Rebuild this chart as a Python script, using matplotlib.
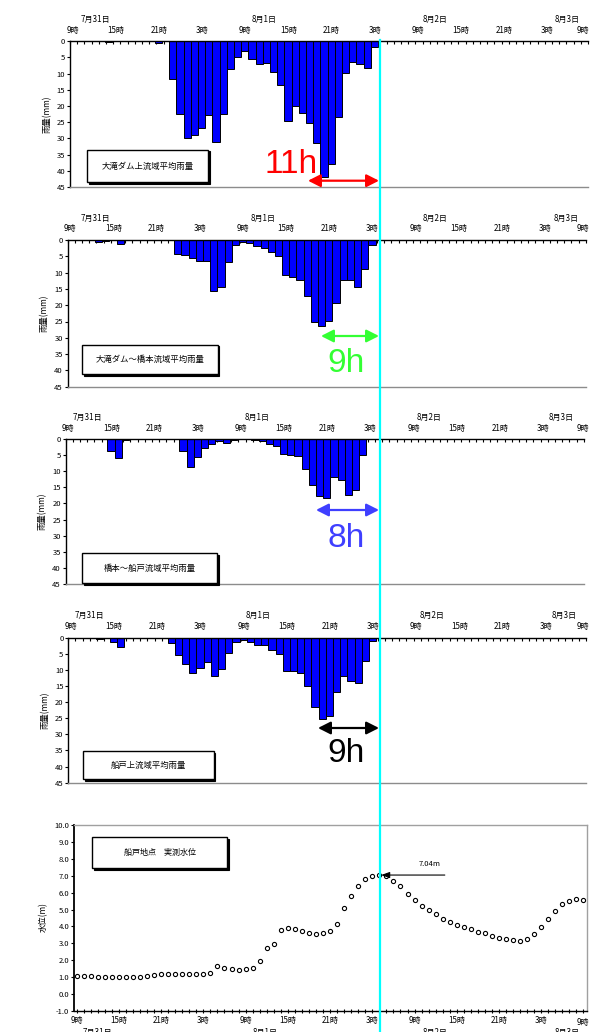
import matplotlib
matplotlib.use("Agg")
import matplotlib.pyplot as plt
import numpy as np
from matplotlib.patches import Rectangle, FancyArrowPatch
from matplotlib.lines import Line2D
from matplotlib.transforms import blended_transform_factory

plt.rcParams['font.family'] = ['Noto Sans CJK JP', 'DejaVu Sans']
plt.rcParams['axes.unicode_minus'] = False

# ---------------------------------------------------------------------------
# Data: hourly values from 7/31 9時 (index 0) to 8/3 9時 (index 72)
# ---------------------------------------------------------------------------
hour_labels = ['9時', '15時', '21時', '3時', '9時', '15時', '21時', '3時',
               '9時', '15時', '21時', '3時', '9時']
date_labels = ['7月31日', '8月1日', '8月2日', '8月3日']

rain_otaki_upper = [
    0, 0, 0, 0, 0, 0.3, 0, 0, 0, 0, 0, 0,
    0.4, 0, 11.5, 22.6, 30.0, 28.9, 26.7, 22.9, 31.2, 22.4, 8.7, 4.7,
    3.0, 5.6, 7.0, 6.7, 9.6, 13.4, 24.6, 19.9, 22.2, 25.1, 31.4, 41.9,
    38.0, 23.5, 9.8, 6.5, 7.0, 8.1, 1.9, 0, 0, 0, 0, 0,
    0, 0, 0, 0, 0, 0, 0, 0, 0, 0, 0, 0,
    0, 0, 0, 0, 0, 0, 0, 0, 0, 0, 0, 0,
    0]

rain_otaki_hashimoto = [
    0, 0, 0, 0, 0.7, 0.3, 0, 1.1, 0, 0, 0, 0,
    0, 0, 0, 4.2, 4.6, 5.6, 6.4, 6.4, 15.5, 14.5, 6.9, 1.6,
    0.5, 0.9, 1.7, 2.4, 3.8, 4.9, 10.7, 11.5, 12.3, 17.1, 25.1, 26.4,
    24.8, 19.4, 12.3, 12.3, 14.5, 9.0, 1.5, 0, 0, 0, 0, 0,
    0, 0, 0, 0, 0, 0, 0, 0, 0, 0, 0, 0,
    0, 0, 0, 0, 0, 0, 0, 0, 0, 0, 0, 0,
    0]

rain_hashimoto_funado = [
    0, 0, 0, 0, 0, 0, 3.6, 5.8, 0.2, 0, 0, 0,
    0, 0, 0, 0, 3.6, 8.8, 5.6, 2.9, 1.5, 0.6, 1.2, 0.3,
    0, 0.1, 0.4, 0.7, 1.7, 2.1, 4.6, 5.1, 5.4, 9.2, 14.4, 17.8,
    18.2, 11.8, 12.6, 17.5, 15.9, 4.9, 0, 0, 0, 0, 0, 0,
    0, 0, 0, 0, 0, 0, 0, 0, 0, 0, 0, 0,
    0, 0, 0, 0, 0, 0, 0, 0, 0, 0, 0, 0,
    0]

rain_funado_upper = [
    0, 0, 0, 0, 0.4, 0, 1.4, 2.9, 0, 0, 0, 0,
    0, 0, 1.7, 5.3, 8.3, 10.8, 9.3, 7.5, 12.0, 9.7, 4.6, 1.4,
    0.7, 1.4, 2.2, 2.3, 3.9, 5.0, 10.3, 10.2, 10.9, 15.0, 21.5, 25.3,
    24.2, 16.9, 11.9, 13.5, 14.0, 7.2, 1.1, 0, 0, 0, 0, 0,
    0, 0, 0, 0, 0, 0, 0, 0, 0, 0, 0, 0,
    0, 0, 0, 0, 0, 0, 0, 0, 0, 0, 0, 0,
    0]

water_funado = [
    1.08, 1.08, 1.08, 1.03, 1.03, 1.03, 1.03, 1.03, 1.03, 1.03, 1.08, 1.12,
    1.17, 1.18, 1.18, 1.18, 1.18, 1.18, 1.20, 1.27, 1.66, 1.55, 1.47, 1.43,
    1.50, 1.52, 1.95, 2.70, 2.98, 3.81, 3.91, 3.85, 3.73, 3.63, 3.55, 3.59,
    3.75, 4.12, 5.11, 5.78, 6.37, 6.79, 6.98, 7.04, 6.98, 6.70, 6.37, 5.92,
    5.56, 5.23, 4.95, 4.71, 4.44, 4.24, 4.10, 3.98, 3.85, 3.69, 3.59, 3.41,
    3.31, 3.23, 3.18, 3.16, 3.28, 3.57, 3.98, 4.46, 4.89, 5.31, 5.52, 5.60,
    5.58]
peak_index = 43
peak_label = '7.04m'

# ---------------------------------------------------------------------------
W, H = 590, 1032
fig = plt.figure(figsize=(W / 100, H / 100), dpi=100)
fig.patch.set_facecolor('white')


def fx(x):
    return x / W


def fy(y):
    return 1 - y / H


def px_rect(x0, y0, x1, y1):
    return [fx(x0), fy(y1), (x1 - x0) / W, (y1 - y0) / H]


def label_box(x0, y0, x1, y1, text, size=6.0):
    # text box with a thin drop shadow
    fig.add_artist(Rectangle((fx(x0 + 1.5), fy(y1 + 1.5)), (x1 - x0) / W, (y1 - y0) / H,
                             transform=fig.transFigure, facecolor='black',
                             edgecolor='black', lw=0.8, zorder=5))
    fig.add_artist(Rectangle((fx(x0), fy(y1)), (x1 - x0) / W, (y1 - y0) / H,
                             transform=fig.transFigure, facecolor='white',
                             edgecolor='black', lw=1.0, zorder=6))
    fig.text(fx((x0 + x1) / 2), fy((y0 + y1) / 2), text, ha='center', va='center',
             fontsize=size, zorder=7)


def lag_arrow(x0, x1, y, color, text, tx, ty):
    arr = FancyArrowPatch((fx(x0), fy(y)), (fx(x1), fy(y)), transform=fig.transFigure,
                          arrowstyle='<|-|>,head_length=0.75,head_width=0.38',
                          mutation_scale=10, color=color, lw=1.6,
                          shrinkA=0, shrinkB=0, zorder=8)
    fig.add_artist(arr)
    fig.text(fx(tx), fy(ty), text, color=color, fontsize=24, ha='center',
             va='baseline', family='Liberation Sans', zorder=8)


AX_W = 518
hours = np.arange(len(rain_otaki_upper))


def rain_panel(values, left, y0, y45, title, box, date_pos):
    ax = fig.add_axes(px_rect(left, y0, left + AX_W, y45))
    ax.bar(hours + 0.3, values, width=1.0, color='#0000FF',
           edgecolor='black', linewidth=0.7, zorder=2)
    ax.set_xlim(0, 72)
    ax.set_ylim(45, 0)
    ax.set_yticks(np.arange(0, 46, 5))
    ax.set_yticklabels([str(v) for v in range(0, 46, 5)], fontsize=5.5)
    ax.tick_params(axis='y', direction='out', length=2, width=0.8, pad=1.5)
    ax.xaxis.tick_top()
    ax.set_xticks(np.arange(0, 73))
    ax.set_xticklabels([])
    ax.tick_params(axis='x', direction='in', length=2.5, width=0.8)
    ax.spines['top'].set_color('black')
    ax.spines['top'].set_linewidth(1.0)
    ax.spines['left'].set_linewidth(1.0)
    ax.spines['right'].set_visible(False)
    ax.spines['bottom'].set_color('#8c8c8c')
    ax.spines['bottom'].set_linewidth(1.0)
    ax.set_facecolor('none')

    tr = blended_transform_factory(ax.transData, fig.transFigure)
    last = len(hour_labels) - 1
    for k, lab in enumerate(hour_labels):
        if k == last:
            # the closing label sits flush with the right edge of the figure
            fig.text(fx(589.5), fy(y0 - 11), lab, ha='right', va='center',
                     fontsize=5.8)
        else:
            ax.text(6 * k + 0.35, fy(y0 - 11), lab, transform=tr, ha='center',
                    va='center', fontsize=5.8, clip_on=False)
    for d, lab in zip(date_pos, date_labels):
        ax.text(d, fy(y0 - 22), lab, transform=tr, ha='center',
                va='center', fontsize=5.8, clip_on=False)
    fig.text(fx(left - 23), fy((y0 + y45) / 2), '雨量(mm)', rotation=90,
             ha='center', va='center', fontsize=6)
    label_box(*box, title)
    return ax


rain_panel(rain_otaki_upper, 70, 41.3, 187, '大滝ダム上流域平均雨量',
           (87, 150, 208, 182), [3.6, 27.0, 50.8, 69.1])
rain_panel(rain_otaki_hashimoto, 67.7, 240, 386.7, '大滝ダム～橋本流域平均雨量',
           (82, 345, 218, 374), [3.9, 27.2, 51.0, 69.3])
rain_panel(rain_hashimoto_funado, 65.7, 439, 584, '橋本～船戸流域平均雨量',
           (82, 553, 217, 583), [3.0, 26.6, 50.5, 68.9])
rain_panel(rain_funado_upper, 68.3, 637.7, 782.7, '船戸上流域平均雨量',
           (83, 751, 214, 779), [2.9, 26.4, 50.5, 68.9])

lag_arrow(308, 379, 180.7, '#FF0000', '11h', 291, 173)
lag_arrow(321, 379, 336, '#33FF33', '9h', 346, 372)
lag_arrow(316, 379, 510, '#3F3FFF', '8h', 346, 547)
lag_arrow(318, 379, 728, '#000000', '9h', 346, 762)

# ---------------------------------------------------------------------------
# Observed water level at Funado
# ---------------------------------------------------------------------------
axw = fig.add_axes(px_rect(74, 825, 587, 1011))
idx = np.arange(len(water_funado))
axw.plot(idx, water_funado, linestyle='none', marker='o', markersize=3.0,
         markerfacecolor='white', markeredgecolor='black', markeredgewidth=0.8,
         zorder=3, clip_on=False)
axw.set_xlim(-0.38, 72.5)
axw.set_ylim(-1, 10)
yt = np.arange(-1, 10.5, 1.0)
axw.set_yticks(yt)
axw.set_yticklabels(['%.1f' % v for v in yt], fontsize=5.5)
axw.tick_params(axis='y', direction='out', length=2, width=0.8, pad=1.5)
axw.set_xticks(idx)
xlabels = [hour_labels[i // 6] if i % 6 == 0 else '' for i in idx]
xlabels[-1] = ''
axw.set_xticklabels(xlabels, fontsize=5.8)
axw.tick_params(axis='x', direction='inout', length=3, width=0.8, pad=2)
fig.text(fx(589.5), fy(1022), hour_labels[-1], ha='right', va='center',
         fontsize=5.8)
for s in ('top', 'right'):
    axw.spines[s].set_color('#a0a0a0')
    axw.spines[s].set_linewidth(1.0)
axw.spines['left'].set_linewidth(1.3)
axw.spines['bottom'].set_linewidth(1.0)
fig.text(fx(43), fy(917), '水位(m)', rotation=90, ha='center', va='center',
         fontsize=6)
for xd, lab in zip([97, 265, 435, 567], date_labels):
    fig.text(fx(xd), fy(1028), lab, ha='center', va='top', fontsize=5.8)
label_box(92, 837, 227, 868, '船戸地点　実測水位', size=5.8)

axw.annotate('', xy=(peak_index + 0.25, water_funado[peak_index]),
             xytext=(peak_index + 9.3, water_funado[peak_index]),
             arrowprops=dict(arrowstyle='-|>,head_length=0.5,head_width=0.18',
                             color='black', lw=0.8, shrinkA=0, shrinkB=0))
axw.annotate(peak_label, xy=(peak_index + 7.1, water_funado[peak_index]),
             xytext=(0, 5), textcoords='offset points', ha='center',
             va='bottom', fontsize=5.5)

# time of the observed peak, carried through every panel
fig.add_artist(Line2D([fx(379.5), fx(379.5)], [fy(40), 0], transform=fig.transFigure,
                      color='#00FFFF', lw=1.6, zorder=20))

fig.savefig('out.png', dpi=100)
